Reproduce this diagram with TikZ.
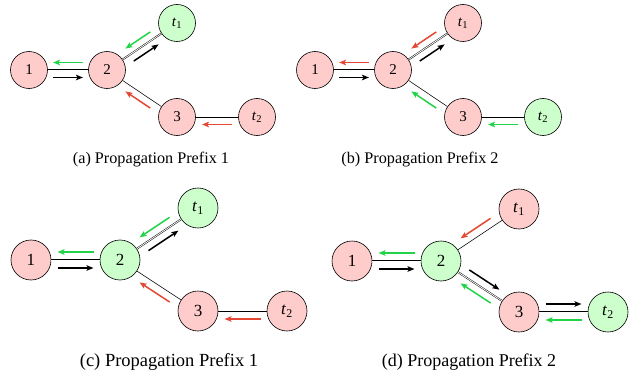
\documentclass[tikz,border=0pt]{standalone}
\usepackage{fontspec}
\setmainfont{Liberation Serif}
\usetikzlibrary{arrows.meta,calc}

\definecolor{nodepink}{RGB}{255,204,204}
\definecolor{nodegreen}{RGB}{204,255,204}
\definecolor{flowgreen}{RGB}{34,211,72}
\definecolor{flowred}{RGB}{228,72,52}

\tikzset{
  vertex/.style={circle, draw=black, line width=0.6pt, inner sep=0pt},
  redvertex/.style={vertex, fill=nodepink},
  greenvertex/.style={vertex, fill=nodegreen},
  link/.style={line width=0.55pt},
  duallink/.style={double, double distance=0.8pt, line width=0.45pt},
  flow/.style={line width=1.5pt, -{Stealth[length=7pt,width=5.5pt,inset=1.5pt]}},
  caption/.style={inner sep=0pt},
}

% half length and side offset of a flow arrow
\def\flowlen{15pt}
\def\flowgap{7.5pt}
% \flow{colour}{from}{to}{side: -90 right, 90 left}
\newcommand{\flow}[4]{%
  \draw[flow,#1] ($(#2)!0.5!(#3)!\flowlen!(#2)!\flowgap!#4:(#3)$) -- ($(#2)!0.5!(#3)!\flowlen!(#3)!\flowgap!#4:(#3)$);}
\newcommand{\tlab}[1]{\textit{t}\textsubscript{#1}}

\begin{document}
\begin{tikzpicture}[x=1pt,y=1pt]
  \useasboundingbox (0,0) rectangle (635,373);

  % (a) Propagation Prefix 1
  \begin{scope}[shift={(29,303)}, every node/.append style={minimum size=37pt, font=\fontsize{15}{18}\selectfont}]
    \node[redvertex] (a1) at (0,0) {1};
    \node[redvertex] (a2) at (78,0) {2};
    \node[greenvertex] (at1) at (148,47) {\tlab{1}};
    \node[redvertex] (a3) at (148,-47) {3};
    \node[redvertex] (at2) at (228,-47) {\tlab{2}};
    \draw[duallink] (a1) -- (a2);
    \draw[duallink] (a2) -- (at1);
    \draw[link] (a2) -- (a3);
    \draw[link] (a3) -- (at2);
    \flow{black}{a1}{a2}{-90}
    \flow{flowgreen}{a2}{a1}{-90}
    \flow{black}{a2}{at1}{-90}
    \flow{flowgreen}{at1}{a2}{-90}
    \flow{flowred}{a3}{a2}{90}
    \flow{flowred}{at2}{a3}{90}
  \end{scope}
  \node[caption, font=\fontsize{16.2}{19}\selectfont] (capa) at (151,213) {(a) Propagation Prefix 1};

  % (b) Propagation Prefix 2
  \begin{scope}[shift={(315,303)}, every node/.append style={minimum size=37pt, font=\fontsize{15}{18}\selectfont}]
    \node[redvertex] (b1) at (0,0) {1};
    \node[redvertex] (b2) at (78,0) {2};
    \node[redvertex] (bt1) at (148,47) {\tlab{1}};
    \node[redvertex] (b3) at (148,-47) {3};
    \node[greenvertex] (bt2) at (228,-47) {\tlab{2}};
    \draw[duallink] (b1) -- (b2);
    \draw[duallink] (b2) -- (bt1);
    \draw[link] (b2) -- (b3);
    \draw[link] (b3) -- (bt2);
    \flow{black}{b1}{b2}{-90}
    \flow{flowred}{b2}{b1}{-90}
    \flow{black}{b2}{bt1}{-90}
    \flow{flowred}{bt1}{b2}{-90}
    \flow{flowgreen}{b3}{b2}{90}
    \flow{flowgreen}{bt2}{b3}{90}
  \end{scope}
  \node[caption, font=\fontsize{16.2}{19}\selectfont] (capb) at (420,213) {(b) Propagation Prefix 2};

  % (c) Propagation Prefix 1
  \begin{scope}[shift={(31,113)}, every node/.append style={minimum size=40pt, font=\fontsize{17}{20}\selectfont}]
    \def\flowlen{18pt}
    \def\flowgap{8pt}
    \node[redvertex] (c1) at (0,0) {1};
    \node[greenvertex] (c2) at (89,0) {2};
    \node[greenvertex] (ct1) at (167,52) {\tlab{1}};
    \node[redvertex] (c3) at (167,-51) {3};
    \node[redvertex] (ct2) at (256,-51) {\tlab{2}};
    \draw[duallink] (c1) -- (c2);
    \draw[duallink] (c2) -- (ct1);
    \draw[link] (c2) -- (c3);
    \draw[link] (c3) -- (ct2);
    \flow{black}{c1}{c2}{-90}
    \flow{flowgreen}{c2}{c1}{-90}
    \flow{black}{c2}{ct1}{-90}
    \flow{flowgreen}{ct1}{c2}{-90}
    \flow{flowred}{c3}{c2}{90}
    \flow{flowred}{ct2}{c3}{90}
  \end{scope}
  \node[caption, font=\fontsize{18.5}{21}\selectfont] (capc) at (169,11) {(c) Propagation Prefix 1};

  % (d) Propagation Prefix 2
  \begin{scope}[shift={(352,112)}, every node/.append style={minimum size=40pt, font=\fontsize{17}{20}\selectfont}]
    \def\flowlen{18pt}
    \def\flowgap{8pt}
    \node[redvertex] (d1) at (0,0) {1};
    \node[greenvertex] (d2) at (89,0) {2};
    \node[redvertex] (dt1) at (167,52) {\tlab{1}};
    \node[redvertex] (d3) at (167,-51) {3};
    \node[greenvertex] (dt2) at (256,-51) {\tlab{2}};
    \draw[duallink] (d1) -- (d2);
    \draw[link] (d2) -- (dt1);
    \draw[duallink] (d2) -- (d3);
    \draw[duallink] (d3) -- (dt2);
    \flow{black}{d1}{d2}{-90}
    \flow{flowgreen}{d2}{d1}{-90}
    \flow{flowred}{dt1}{d2}{-90}
    \flow{black}{d2}{d3}{90}
    \flow{flowgreen}{d3}{d2}{90}
    \flow{black}{d3}{dt2}{90}
    \flow{flowgreen}{dt2}{d3}{90}
  \end{scope}
  \node[caption, font=\fontsize{18}{21}\selectfont] (capd) at (469,11) {(d) Propagation Prefix 2};
\end{tikzpicture}
\end{document}
